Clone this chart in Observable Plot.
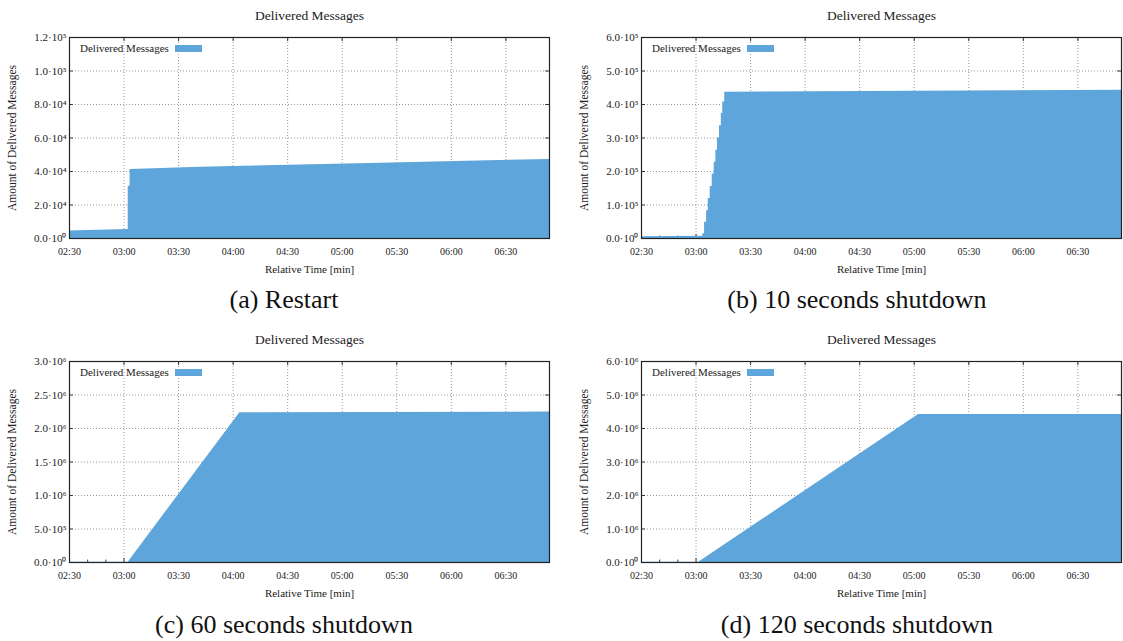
<!DOCTYPE html>
<html>
<head>
<meta charset="utf-8">
<script src="https://cdn.jsdelivr.net/npm/d3@7"></script>
<script src="https://cdn.jsdelivr.net/npm/@observablehq/plot@0.6"></script>
<style>
  html, body { margin: 0; padding: 0; background: #fff; overflow: hidden; }
  body { width: 1123px; height: 641px; position: relative; font-family: "Liberation Serif", serif; }
  .panel { position: absolute; }
  .caption { position: absolute; transform: translate(-50%, -50%); font-size: 26px; white-space: nowrap; color: #111; }
  .legend { position: absolute; font-size: 11px; display: flex; align-items: center; color: #222; transform: translateY(-50%); }
  .legend .sw { display: inline-block; width: 27px; height: 7px; margin-left: 6px; }
</style>
</head>
<body>
<script>
// ---------- data ----------
const seriesName = "Delivered Messages";
const yAxisTitle = "Amount of Delivered Messages";
const xAxisTitle = "Relative Time [min]";
const areaColor = "#5DA5DA";

// x ticks (seconds) and labels
const xTicks = [150, 180, 210, 240, 270, 300, 330, 360, 390];
const xTickLabels = ["02:30", "03:00", "03:30", "04:00", "04:30", "05:00", "05:30", "06:00", "06:30"];
const xMinorTicks = [160, 170, 190, 200, 220, 230, 250, 260, 280, 290, 310, 320, 340, 350, 370, 380, 400, 410];
const xDomain = [150, 414];

// (a) Restart
const yTicksA = [0, 20000, 40000, 60000, 80000, 100000, 120000];
const yLabelsA = ["0.0·10⁰", "2.0·10⁴", "4.0·10⁴", "6.0·10⁴", "8.0·10⁴", "1.0·10⁵", "1.2·10⁵"];
const timesA = [150, 182.3, 182.3, 183.3, 183.3, 222, 321, 414];
const valuesA = [4500, 5400, 31200, 31200, 41200, 42500, 45000, 47200];

// (b) 10 seconds shutdown
const yTicksB = [0, 100000, 200000, 300000, 400000, 500000, 600000];
const yLabelsB = ["0.0·10⁰", "1.0·10⁵", "2.0·10⁵", "3.0·10⁵", "4.0·10⁵", "5.0·10⁵", "6.0·10⁵"];
const timesB = [150, 183, 183.7, 183.7, 184.7, 184.7, 185.8, 185.8, 186.7, 186.7, 187.8, 187.8, 188.9, 188.9, 190, 190, 190.9, 190.9, 191.8, 191.8, 192.9, 192.9, 193.9, 193.9, 194.7, 194.7, 195.8, 195.8, 300, 414];
const valuesB = [5500, 6500, 6500, 14000, 14000, 48400, 48400, 83200, 83200, 119700, 119700, 155300, 155300, 192200, 192200, 227800, 227800, 263400, 263400, 300000, 300000, 336500, 336500, 373300, 373300, 407800, 407800, 436600, 439500, 442500];

// (c) 60 seconds shutdown
const yTicksC = [0, 500000, 1000000, 1500000, 2000000, 2500000, 3000000];
const yLabelsC = ["0.0·10⁰", "5.0·10⁵", "1.0·10⁶", "1.5·10⁶", "2.0·10⁶", "2.5·10⁶", "3.0·10⁶"];
const timesC = [150, 182.3, 243.7, 414];
const valuesC = [5000, 5000, 2236000, 2245000];

// (d) 120 seconds shutdown
const yTicksD = [0, 1000000, 2000000, 3000000, 4000000, 5000000, 6000000];
const yLabelsD = ["0.0·10⁰", "1.0·10⁶", "2.0·10⁶", "3.0·10⁶", "4.0·10⁶", "5.0·10⁶", "6.0·10⁶"];
const timesD = [150, 181.5, 302.4, 414];
const valuesD = [5000, 5000, 4420000, 4420000];

const captions = ["(a) Restart", "(b) 10 seconds shutdown", "(c) 60 seconds shutdown", "(d) 120 seconds shutdown"];

// ---------- layout ----------
const panels = [
  {left: 0,   top: 0,   width: 560, mr: 11, yTicks: yTicksA, yLabels: yLabelsA, times: timesA, values: valuesA, caption: captions[0], capX: 284, capY: 300},
  {left: 572, top: 0,   width: 551, mr: 2,  yTicks: yTicksB, yLabels: yLabelsB, times: timesB, values: valuesB, caption: captions[1], capX: 857, capY: 300},
  {left: 0,   top: 324, width: 560, mr: 11, yTicks: yTicksC, yLabels: yLabelsC, times: timesC, values: valuesC, caption: captions[2], capX: 284, capY: 625},
  {left: 572, top: 324, width: 551, mr: 2,  yTicks: yTicksD, yLabels: yLabelsD, times: timesD, values: valuesD, caption: captions[3], capX: 857, capY: 625}
];

const ML = 69, MT = 37, MB = 42, H = 280;

for (const p of panels) {
  const data = p.times.map((t, i) => ({t, v: p.values[i]}));
  const ymax = p.yTicks[p.yTicks.length - 1];
  const xr = xDomain[1] - xDomain[0];
  const labelOf = new Map(p.yTicks.map((v, i) => [v, p.yLabels[i]]));
  const xLabelOf = new Map(xTicks.map((v, i) => [v, xTickLabels[i]]));
  const gridX = xTicks.slice(1);
  const gridY = p.yTicks.slice(1, -1);

  const chart = Plot.plot({
    width: p.width,
    height: H,
    marginLeft: ML,
    marginRight: p.mr,
    marginTop: MT,
    marginBottom: MB,
    style: {fontFamily: "Liberation Serif, serif", fontSize: "10px", color: "#222", background: "transparent"},
    x: {domain: xDomain},
    y: {domain: [0, ymax]},
    marks: [
      // grid
      Plot.ruleX(gridX, {x: d => d, y1: 0, y2: ymax, stroke: "#9a9a9a", strokeDasharray: "1,2", strokeWidth: 1}),
      Plot.ruleY(gridY, {y: d => d, x1: xDomain[0], x2: xDomain[1], stroke: "#9a9a9a", strokeDasharray: "1,2", strokeWidth: 1}),
      // inward ticks
      Plot.ruleX(xTicks, {x: d => d, y1: 0, y2: ymax * 0.02, stroke: "#333"}),
      Plot.ruleX(xMinorTicks, {x: d => d, y1: 0, y2: ymax * 0.012, stroke: "#333"}),
      Plot.ruleX(xTicks, {x: d => d, y1: ymax, y2: ymax * 0.98, stroke: "#333"}),
      Plot.ruleY(p.yTicks, {y: d => d, x1: xDomain[0], x2: xDomain[0] + xr * 0.008, stroke: "#333"}),
      Plot.ruleY(p.yTicks, {y: d => d, x1: xDomain[1] - xr * 0.008, x2: xDomain[1], stroke: "#333"}),
      // data (no stacking: explicit baseline)
      Plot.area(data, {x1: "t", y1: 0, y2: "v", fill: areaColor, curve: "linear"}),
      // axes
      Plot.axisX({ticks: xTicks, tickFormat: d => xLabelOf.get(d), tickSize: 0, tickPadding: 9, label: null}),
      Plot.axisY({ticks: p.yTicks, tickFormat: d => labelOf.get(d), tickSize: 0, tickPadding: 3, label: null, fontSize: 11}),
      Plot.frame({stroke: "#222", strokeWidth: 1.2}),
      // titles
      Plot.text([seriesName], {text: d => d, frameAnchor: "top", dy: -22, fontSize: 13.5, lineAnchor: "middle", textAnchor: "middle", fill: "#222"}),
      Plot.text([xAxisTitle], {text: d => d, frameAnchor: "bottom", dy: 31, fontSize: 11, lineAnchor: "middle", textAnchor: "middle", fill: "#222"}),
      Plot.text([yAxisTitle], {text: d => d, frameAnchor: "left", dx: -57, rotate: -90, fontSize: 11.5, lineAnchor: "middle", textAnchor: "middle", fill: "#222"})
    ]
  });

  const div = document.createElement("div");
  div.className = "panel";
  div.style.left = p.left + "px";
  div.style.top = p.top + "px";
  div.appendChild(chart);
  document.body.appendChild(div);

  // legend (inside plot, top-left)
  const lg = document.createElement("div");
  lg.className = "legend";
  lg.style.left = (p.left + ML + 11) + "px";
  lg.style.top = (p.top + MT + 11) + "px";
  const lt = document.createElement("span");
  lt.textContent = seriesName;
  const sw = document.createElement("span");
  sw.className = "sw";
  sw.style.background = areaColor;
  lg.appendChild(lt);
  lg.appendChild(sw);
  document.body.appendChild(lg);

  const cap = document.createElement("div");
  cap.className = "caption";
  cap.style.left = p.capX + "px";
  cap.style.top = p.capY + "px";
  cap.textContent = p.caption;
  document.body.appendChild(cap);
}
</script>
</body>
</html>
